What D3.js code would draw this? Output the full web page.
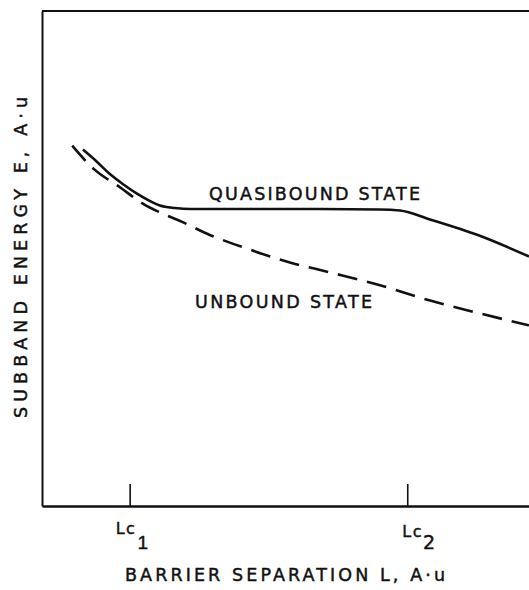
<!DOCTYPE html>
<html>
<head>
<meta charset="utf-8">
<script src="https://cdn.jsdelivr.net/npm/d3@7"></script>
<style>
  html, body { margin: 0; padding: 0; background: #fff; }
  svg { display: block; }
  text { font-family: "DejaVu Sans", sans-serif; fill: #111; stroke: #111; stroke-width: 0.45px; }
</style>
</head>
<body>
<svg id="chart" width="529" height="590"></svg>
<script>
// Barrier separation L (arbitrary units, 0–100) and subband energy E (arbitrary units, 0–100)
const quasiL = [8.4, 11.1, 14.0, 16.8, 19.5, 22.2, 24.2, 27.3, 30.4, 53.0, 69.4, 73.5, 79.7, 89.9, 100];
const quasiE = [72.0, 69.7, 67.0, 64.9, 63.1, 61.6, 60.7, 60.2, 60.0, 60.0, 59.9, 59.7, 57.9, 54.6, 50.4];

const unboundL = [6.2, 10.5, 16.0, 20.7, 24.9, 29.0, 33.9, 42.1, 50.9, 59.1, 69.4, 79.7, 89.9, 100];
const unboundE = [72.8, 68.2, 64.4, 61.1, 59.0, 57.3, 55.0, 52.0, 49.2, 47.2, 44.6, 41.5, 38.9, 36.5];

// Critical separations marked on the L axis
const tickValues = [18, 75];
const tickMain = ["Lc", "Lc"];
const tickSub = ["1", "2"];

const curveLabels = ["QUASIBOUND STATE", "UNBOUND STATE"];
const xTitle = "BARRIER SEPARATION L, A\u00B7u";
const yTitle = "SUBBAND ENERGY E, A\u00B7u";

const svg = d3.select("#chart");
const plotLeft = 42, plotRight = 529, plotTop = 11, plotBottom = 506;

const x = d3.scaleLinear().domain([0, 100]).range([plotLeft, plotRight]);
const y = d3.scaleLinear().domain([0, 100]).range([plotBottom, plotTop]);

// Frame: left axis, bottom axis with upward ticks, top border
svg.append("g")
  .attr("transform", `translate(${plotLeft},0)`)
  .call(d3.axisLeft(y).tickValues([]).tickSizeOuter(0))
  .call(g => g.select(".domain").attr("stroke", "#111").attr("stroke-width", 2));

svg.append("g")
  .attr("transform", `translate(0,${plotBottom})`)
  .call(d3.axisBottom(x).tickValues(tickValues).tickSize(-22).tickSizeOuter(0).tickFormat(""))
  .call(g => g.select(".domain").attr("stroke", "#111").attr("stroke-width", 2.5))
  .call(g => g.selectAll(".tick line").attr("stroke", "#111").attr("stroke-width", 1.6));

svg.append("line")
  .attr("x1", x(0)).attr("x2", x(100))
  .attr("y1", y(100)).attr("y2", y(100))
  .attr("stroke", "#111").attr("stroke-width", 2);

// Tick labels Lc1, Lc2 with subscripts
const tickDx = [-14, -5];
const tickDy = [0, 3];
tickValues.forEach((v, i) => {
  const t = svg.append("text")
    .attr("x", x(v) + tickDx[i])
    .attr("y", 534 + tickDy[i])
    .attr("font-size", 16)
    .attr("letter-spacing", 1.5);
  t.append("tspan").text(tickMain[i]);
  t.append("tspan")
    .attr("dx", i === 0 ? 1 : 0)
    .attr("dy", 15 - tickDy[i])
    .attr("font-size", 19)
    .attr("font-family", i === 0 ? "Liberation Sans, sans-serif" : null)
    .text(tickSub[i]);
});

// Curves
const line = d3.line()
  .x(d => x(d[0]))
  .y(d => y(d[1]))
  .curve(d3.curveMonotoneX);

svg.append("path")
  .datum(quasiL.map((l, i) => [l, quasiE[i]]))
  .attr("d", line)
  .attr("fill", "none")
  .attr("stroke", "#111")
  .attr("stroke-width", 2.6);

svg.append("path")
  .datum(unboundL.map((l, i) => [l, unboundE[i]]))
  .attr("d", line)
  .attr("fill", "none")
  .attr("stroke", "#111")
  .attr("stroke-width", 2.6)
  .attr("stroke-dasharray", "20 10");

// Curve labels
svg.append("text")
  .attr("x", 209).attr("y", 200)
  .attr("font-size", 17.5)
  .attr("textLength", 211).attr("lengthAdjust", "spacing")
  .text(curveLabels[0]);

svg.append("text")
  .attr("x", 195).attr("y", 308)
  .attr("font-size", 17.5)
  .attr("textLength", 177).attr("lengthAdjust", "spacing")
  .text(curveLabels[1]);

// Axis titles
svg.append("text")
  .attr("x", 125).attr("y", 581)
  .attr("font-size", 17.5)
  .attr("textLength", 320).attr("lengthAdjust", "spacing")
  .text(xTitle);

svg.append("text")
  .attr("transform", "translate(27,418) rotate(-90)")
  .attr("font-size", 17.5)
  .attr("textLength", 321).attr("lengthAdjust", "spacing")
  .text(yTitle);
</script>
</body>
</html>
